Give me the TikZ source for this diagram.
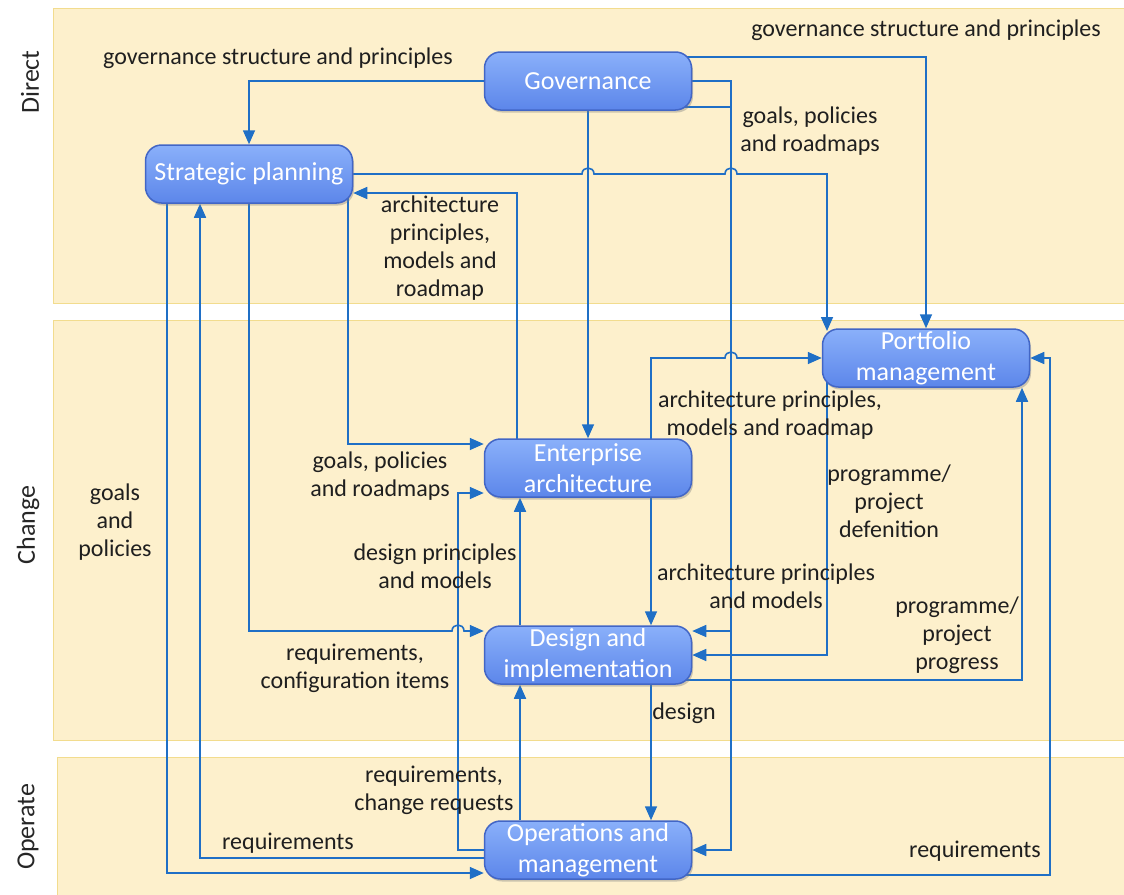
\documentclass[tikz,border=0pt]{standalone}
\usepackage{fontspec}
\setmainfont{Carlito}
\usetikzlibrary{arrows.meta,calc,shadows}

\definecolor{bandfill}{HTML}{FDF0CC}
\definecolor{bandline}{HTML}{F2DC8E}
\definecolor{flow}{HTML}{1F6FC6}
\definecolor{boxtop}{HTML}{8AB0FA}
\definecolor{boxbot}{HTML}{5C86EA}
\definecolor{boxline}{HTML}{4266C6}

\pgfdeclarelayer{bands}
\pgfdeclarelayer{flows}
\pgfsetlayers{bands,flows,main}

\tikzset{
  band/.style={fill=bandfill, draw=bandline, line width=1pt},
  lane/.style={font=\fontsize{26}{30}\selectfont, rotate=90, text=black!85},
  proc/.style={rounded corners=16pt, minimum width=207pt, minimum height=58pt,
    top color=boxtop, bottom color=boxbot, draw=boxline, line width=1.5pt,
    text=white, align=center, font=\fontsize{26}{31}\selectfont, inner sep=0pt,
    drop shadow={shadow xshift=1.5pt, shadow yshift=-2.5pt, opacity=0.4}},
  flowline/.style={draw=flow, line width=1.6pt, -{Triangle[length=14pt,width=12pt]}},
  note/.style={align=center, font=\fontsize{24}{28}\selectfont, text=black!88},
}

\begin{document}
\begin{tikzpicture}[x=1pt,y=-1pt]
\useasboundingbox (0,0) rectangle (1124,894);

% swim lanes
\begin{pgfonlayer}{bands}
  \fill[white] (0,0) rectangle (1124,894);
  \draw[band] (53,8) rectangle (1130,303);
  \draw[band] (53,320) rectangle (1130,740);
  \draw[band] (57,757) rectangle (1130,900);
\end{pgfonlayer}
\node[lane] (lDirect)  at (30,82)  {Direct};
\node[lane] (lChange)  at (28,525) {Change};
\node[lane] (lOperate) at (28,827) {Operate};

% processes
\node[proc] (gov) at (588,81)  {Governance};
\node[proc] (sp)  at (249,174) {Strategic planning};
\node[proc] (pm)  at (926,358) {Portfolio\\management};
\node[proc] (ea)  at (588,468) {Enterprise\\architecture};
\node[proc] (di)  at (588,655) {Design and\\implementation};
\node[proc] (om)  at (588,850) {Operations and\\management};

% information flows
\begin{pgfonlayer}{flows}
  % from governance
  \draw[flowline] (gov.west) -| (sp.north);
  \draw[flowline] ([yshift=24pt]gov.center) -| (pm.north);
  \draw[flowline] (gov.center) -| (731,631) -- ([yshift=24pt]di.east);
  \draw[flowline] ([yshift=-26pt]gov.center) -| (731,850) -- (om.east);
  \draw[flowline] (gov.south) -- (ea.north);

  % from strategic planning
  \draw[flowline] (sp.center) -- (582,174) .. controls +(0,-8) and +(0,-8) .. (594,174)
    -- (725,174) .. controls +(0,-8) and +(0,-8) .. (737,174) -| (827,331);
  \draw[flowline] ([xshift=-82pt]sp.south) -- (167,873) -- ([yshift=-23pt]om.west);
  \draw[flowline] (sp.center) -- (249,631) -- (452,631) .. controls +(0,-8) and +(0,-8) .. (464,631)
    -- ([yshift=24pt]di.west);
  \draw[flowline] ([xshift=99pt]sp.center) -- (348,444) -- ([yshift=24pt]ea.west);

  % from enterprise architecture
  \draw[flowline] ([xshift=-71pt]ea.center) -- (517,193) -- ([yshift=-19pt]sp.east);
  \draw[flowline] ([xshift=63pt]ea.center) -- (651,358) -- (725,358)
    .. controls +(0,-8) and +(0,-8) .. (737,358) -- (pm.west);
  \draw[flowline] ([xshift=63pt]ea.south) -- ([xshift=63pt]di.north);

  % from design and implementation
  \draw[flowline] ([xshift=-68pt]di.north) -- ([xshift=-68pt]ea.south);
  \draw[flowline] ([yshift=-25pt]di.center) -- (1022,680) -- ([xshift=96pt]pm.south);
  \draw[flowline] ([xshift=63pt]di.south) -- ([xshift=63pt]om.north);

  % from portfolio management
  \draw[flowline] ([xshift=-99pt]pm.center) -- (827,655) -- (di.east);

  % from operations and management
  \draw[flowline] ([yshift=-8pt]om.west) -| ([xshift=-49pt]sp.south);
  \draw[flowline] (om.center) -- (458,850) -- (458,493) -- ([yshift=-25pt]ea.west);
  \draw[flowline] ([xshift=-68pt]om.north) -- ([xshift=-68pt]di.south);
  \draw[flowline] ([yshift=-25pt]om.center) -- (1050,875) -- (1050,358) -- (pm.east);
\end{pgfonlayer}

% flow labels
\node[note] (t1)  at (278,58)  {governance structure and principles};
\node[note] (t2)  at (926,30)  {governance structure and principles};
\node[note] (t3)  at (810,131) {goals, policies\\and roadmaps};
\node[note] (t4)  at (440,248) {architecture\\principles,\\models and\\roadmap};
\node[note] (t5)  at (115,522) {goals\\and\\policies};
\node[note] (t6)  at (380,476) {goals, policies\\and roadmaps};
\node[note] (t7)  at (435,566) {design principles\\and models};
\node[note] (t8)  at (355,668) {requirements,\\configuration items};
\node[note] (t9)  at (434,790) {requirements,\\change requests};
\node[note] (t10) at (288,843) {requirements};
\node[note] (t11) at (770,415) {architecture principles,\\models and roadmap};
\node[note] (t12) at (889,501) {programme/\\project\\defenition};
\node[note] (t13) at (766,586) {architecture principles\\and models};
\node[note] (t14) at (957,635) {programme/\\project\\progress};
\node[note] (t15) at (684,713) {design};
\node[note] (t16) at (975,851) {requirements};
\end{tikzpicture}
\end{document}
